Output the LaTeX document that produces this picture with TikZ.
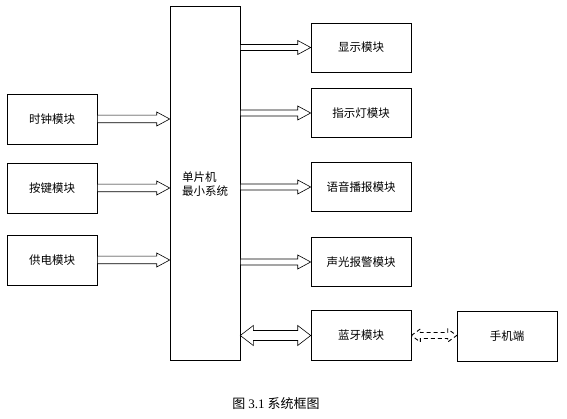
\documentclass[tikz,border=0pt]{standalone}
\usepackage{fontspec}
\usepackage{tikz}
\usetikzlibrary{calc,positioning}
\newfontfamily\cjk{Noto Sans CJK SC}
\newfontfamily\numfont{Liberation Serif}

% hollow block arrow, start -> end, horizontal
% #2 start, #3 end, #4 shaft half width, #5 head half width, #6 head length
\newcommand{\hollowarrow}[6][]{%
  \draw[arrowline,#1] let \p1=(#2), \p2=(#3) in
    (\x1,\y1+#4) -- (\x2-#6,\y1+#4) -- (\x2-#6,\y1+#5) -- (\x2,\y1)
    -- (\x2-#6,\y1-#5) -- (\x2-#6,\y1-#4) -- (\x1,\y1-#4) -- cycle;}
% same, with a head at both ends
\newcommand{\hollowboth}[6][]{%
  \draw[arrowline,#1] let \p1=(#2), \p2=(#3) in
    (\x1,\y1) -- (\x1+#6,\y1+#5) -- (\x1+#6,\y1+#4) -- (\x2-#6,\y1+#4)
    -- (\x2-#6,\y1+#5) -- (\x2,\y1) -- (\x2-#6,\y1-#5) -- (\x2-#6,\y1-#4)
    -- (\x1+#6,\y1-#4) -- (\x1+#6,\y1-#5) -- cycle;}

\begin{document}
\begin{tikzpicture}[x=1pt, y=-1pt,
  every node/.style={font=\cjk\fontsize{11.5}{14}\selectfont},
  modbox/.style={draw, line width=0.6pt, inner sep=0pt},
  leftbox/.style={modbox, minimum width=90pt, minimum height=50pt},
  rightbox/.style={modbox, minimum width=100pt, minimum height=49pt},
  arrowline/.style={draw, line width=0.6pt, fill=white}]
\useasboundingbox (0,0) rectangle (567,419);

% controller
\node[modbox, minimum width=70pt, minimum height=354pt] (mcu) at (205,183) {};
\node[align=left] (mcutext) at (205,184) {单片机\\最小系统};

% inputs
\node[leftbox] (clk) at (52,119) {时钟模块};
\node[leftbox] (key) at (52,188) {按键模块};
\node[leftbox] (pwr) at (52,260) {供电模块};

% outputs
\node[rightbox] (disp)  at (361,47.5) {显示模块};
\node[rightbox] (lamp)  at (361,113)  {指示灯模块};
\node[rightbox] (voice) at (361,187)  {语音播报模块};
\node[rightbox] (alarm) at (361,262)  {声光报警模块};
\node[rightbox, minimum height=50pt] (bt) at (361,335.5) {蓝牙模块};
\node[leftbox, minimum width=100pt] (phone) at (507,336) {手机端};

\node[font=\cjk\fontsize{13}{15}\selectfont] (caption) at (276,404)
  {图 {\numfont 3.1} 系统框图};

% connectors
\hollowarrow{clk.east}{mcu.west |- clk.east}{3.8pt}{7pt}{13pt}
\hollowarrow{key.east}{mcu.west |- key.east}{3.8pt}{7pt}{13pt}
\hollowarrow{pwr.east}{mcu.west |- pwr.east}{3.8pt}{7pt}{13pt}
\hollowarrow{mcu.east |- disp.west}{disp.west}{3pt}{7pt}{13pt}
\hollowarrow{mcu.east |- lamp.west}{lamp.west}{3pt}{7pt}{13pt}
\hollowarrow{mcu.east |- voice.west}{voice.west}{3pt}{7pt}{13pt}
\hollowarrow{mcu.east |- alarm.west}{alarm.west}{3pt}{7pt}{13pt}
\hollowboth{mcu.east |- bt.west}{bt.west}{5pt}{10pt}{13pt}
\hollowboth[line width=0.9pt, dash pattern=on 4pt off 3pt]{bt.east}{phone.west}{3pt}{6.5pt}{9pt}
\end{tikzpicture}
\end{document}
